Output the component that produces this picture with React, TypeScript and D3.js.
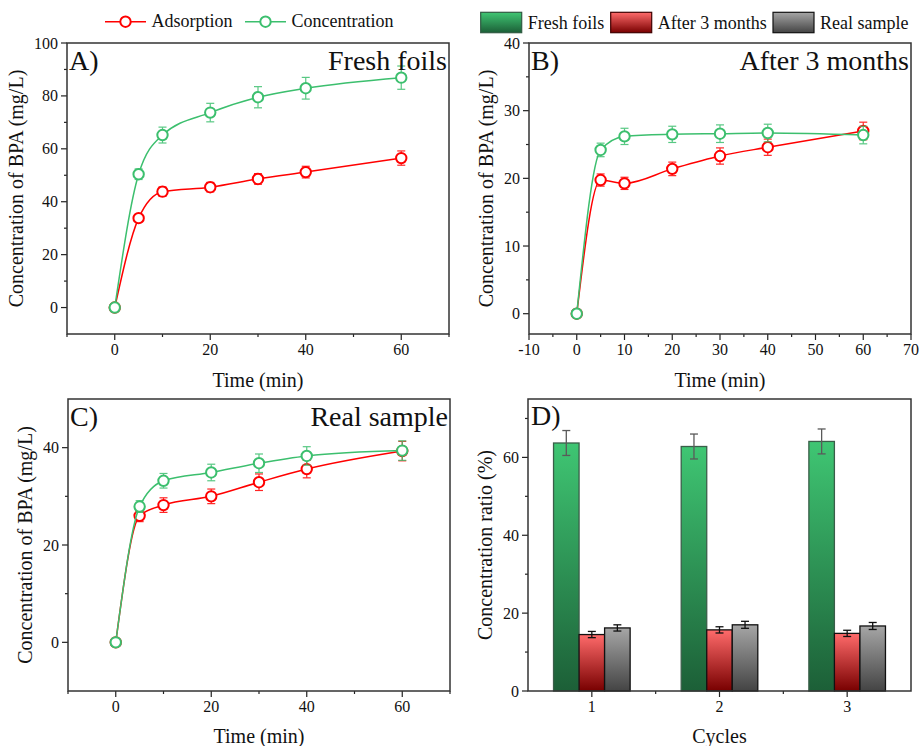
import React from "react";
import * as d3 from "d3";

const FONT = "Liberation Serif";

// ---- data ----
const times = [0, 5, 10, 20, 30, 40, 60];

const adsA = [0, 33.8, 43.8, 45.5, 48.6, 51.2, 56.5];
const adsAErr = [0, 1.2, 1.8, 1.8, 2.0, 2.2, 2.7];
const concA = [0, 50.4, 65.2, 73.7, 79.5, 82.9, 86.9];
const concAErr = [0, 2.0, 3.0, 3.5, 4.0, 4.1, 4.4];

const adsB = [0, 19.75, 19.26, 21.4, 23.3, 24.6, 27.0];
const adsBErr = [0, 0.9, 0.9, 1.0, 1.2, 1.2, 1.3];
const concB = [0, 24.2, 26.2, 26.5, 26.6, 26.7, 26.4];
const concBErr = [0, 1.0, 1.2, 1.2, 1.3, 1.3, 1.3];

const adsC = [0, 26.0, 28.2, 30.0, 32.9, 35.6, 39.3];
const adsCErr = [0, 1.2, 1.5, 1.5, 1.7, 1.8, 2.0];
const concC = [0, 27.9, 33.2, 34.9, 36.8, 38.3, 39.4];
const concCErr = [0, 1.2, 1.5, 1.7, 1.9, 1.9, 2.0];

const cycles = [1, 2, 3];
const fresh = [63.7, 62.8, 64.1];
const freshErr = [3.2, 3.2, 3.2];
const after3 = [14.5, 15.7, 14.8];
const after3Err = [0.8, 0.8, 0.8];
const real = [16.2, 17.0, 16.7];
const realErr = [0.8, 0.9, 0.9];

const lineLegend = ["Adsorption", "Concentration"];
const barLegend = ["Fresh foils", "After 3 months", "Real sample"];

const RED = "#ff0000";
const GREEN = "#3cbf6e";

const T = (props) => {
	const { size, children, ...rest } = props;
	return <text fill="#111" style={{ fontFamily: FONT, fontSize: size + "px" }} {...rest}>{children}</text>;
};

const Axes = ({ box, x, y, xMaj, xMin, yMaj, yMin }) => (
	<g stroke="#222" strokeWidth={1.2}>
		{xMin.map(v => <line key={"xm" + v} x1={x(v)} x2={x(v)} y1={box.b} y2={box.b + 3} />)}
		{xMaj.map(v => <line key={"xM" + v} x1={x(v)} x2={x(v)} y1={box.b} y2={box.b + 6} />)}
		{yMin.map(v => <line key={"ym" + v} x1={box.l - 3} x2={box.l} y1={y(v)} y2={y(v)} />)}
		{yMaj.map(v => <line key={"yM" + v} x1={box.l - 6} x2={box.l} y1={y(v)} y2={y(v)} />)}
		<g stroke="none">
			{xMaj.map(v => <T key={"xt" + v} size={16} x={x(v)} y={box.b + 21} textAnchor="middle">{String(v)}</T>)}
			{yMaj.map(v => <T key={"yt" + v} size={16} x={box.l - 9} y={y(v) + 5.5} textAnchor="end">{String(v)}</T>)}
		</g>
		<rect x={box.l} y={box.t} width={box.r - box.l} height={box.b - box.t} fill="none" stroke="#333" strokeWidth={1.5} />
	</g>
);

const ErrBar = ({ cx, y1, y2, w }) => (
	<g>
		<line x1={cx} x2={cx} y1={y1} y2={y2} />
		<line x1={cx - w} x2={cx + w} y1={y1} y2={y1} />
		<line x1={cx - w} x2={cx + w} y1={y2} y2={y2} />
	</g>
);

const KineticPanel = ({ cfg }) => {
	const box = cfg.box;
	const x = d3.scaleLinear().domain([-10, 70]).range([box.l, box.r]);
	const y = d3.scaleLinear().domain(cfg.yDomain).range([box.b, box.t]);
	const line = d3.line().x(d => x(d[0])).y(d => y(d[1])).curve(d3.curveMonotoneX);
	return (
		<g>
			<Axes box={box} x={x} y={y} xMaj={cfg.xMaj} xMin={cfg.xMin} yMaj={cfg.yMaj} yMin={cfg.yMin} />
			{cfg.series.map((s, si) => {
				const pts = times.map((t, i) => [t, s.v[i], s.e[i]]);
				return (
					<g key={si}>
						<path d={line(pts)} fill="none" stroke={s.color} strokeWidth={1.5} />
						<g stroke={s.color} strokeWidth={1.2} opacity={0.85}>
							{pts.filter(d => d[2] > 0).map((d, i) => (
								<ErrBar key={i} cx={x(d[0])} y1={y(d[1] - d[2])} y2={y(d[1] + d[2])} w={4} />
							))}
						</g>
						{pts.map((d, i) => (
							<circle key={i} cx={x(d[0])} cy={y(d[1])} r={5.2} fill="white" stroke={s.color} strokeWidth={2} />
						))}
					</g>
				);
			})}
			<T size={28} x={box.l + 2} y={box.t + 27}>{cfg.tag}</T>
			<T size={28} x={box.r - 2} y={box.t + 27} textAnchor="end">{cfg.title}</T>
			<T size={20} x={(box.l + box.r) / 2} y={cfg.xTitleY} textAnchor="middle">Time (min)</T>
			<T size={20} x={0} y={0} textAnchor="middle"
				transform={`translate(${cfg.yTitleX}, ${(box.t + box.b) / 2}) rotate(-90)`}>Concentration of BPA (mg/L)</T>
		</g>
	);
};

const BarPanel = () => {
	const box = { l: 528, r: 911, t: 399, b: 691 };
	const x = d3.scaleLinear().domain([0.5, 3.5]).range([box.l, box.r]);
	const y = d3.scaleLinear().domain([0, 75]).range([box.b, box.t]);
	const bw = 0.2;
	const groups = [
		{ v: fresh, e: freshErr, fill: "gGreen", stroke: "#3a5e49", err: "#5a5a5a", off: -0.3 },
		{ v: after3, e: after3Err, fill: "gRed", stroke: "#111", err: "#111", off: -0.1 },
		{ v: real, e: realErr, fill: "gGray", stroke: "#111", err: "#111", off: 0.1 },
	];
	return (
		<g>
			{groups.map((s, si) => (
				<g key={si}>
					{cycles.map((c, i) => (
						<rect key={i} x={x(c + s.off)} y={y(s.v[i])} width={x(bw) - x(0)} height={y(0) - y(s.v[i])}
							fill={`url(#${s.fill})`} stroke={s.stroke} strokeWidth={1.3} />
					))}
					<g stroke={s.err} strokeWidth={1.3}>
						{cycles.map((c, i) => (
							<ErrBar key={i} cx={x(c + s.off + bw / 2)} y1={y(s.v[i] - s.e[i])} y2={y(s.v[i] + s.e[i])} w={4} />
						))}
					</g>
				</g>
			))}
			<Axes box={box} x={x} y={y} xMaj={cycles} xMin={[1.5, 2.5]} yMaj={[0, 20, 40, 60]} yMin={[10, 30, 50, 70]} />
			<T size={28} x={box.l + 3} y={box.t + 26}>D)</T>
			<T size={20} x={(box.l + box.r) / 2} y={743} textAnchor="middle">Cycles</T>
			<T size={20} x={0} y={0} textAnchor="middle"
				transform={`translate(492, ${(box.t + box.b) / 2}) rotate(-90)`}>Concentration ratio (%)</T>
		</g>
	);
};

const grads = [
	["gGreen", "#3fc673", "#1c5f37"],
	["gRed", "#ff6b6b", "#780000"],
	["gGray", "#a6a6a6", "#444444"],
];

const App = () => (
	<div style={{ position: "absolute", left: 0, top: 0 }}>
		<svg width={919} height={746} style={{ display: "block", background: "white" }}>
			<defs>
				{grads.map(([id, c1, c2]) => (
					<linearGradient key={id} id={id} x1={0} y1={0} x2={0} y2={1}>
						<stop offset="0%" stopColor={c1} />
						<stop offset="100%" stopColor={c2} />
					</linearGradient>
				))}
			</defs>

			{/* line legend */}
			{[[105, RED, lineLegend[0]], [245, GREEN, lineLegend[1]]].map(([x0, c, t]) => (
				<g key={t}>
					<line x1={x0} x2={x0 + 41} y1={21.7} y2={21.7} stroke={c} strokeWidth={1.5} />
					<circle cx={x0 + 20.5} cy={21.7} r={5.2} fill="white" stroke={c} strokeWidth={2} />
					<T size={18} x={x0 + 46.5} y={27}>{t}</T>
				</g>
			))}

			{/* bar legend */}
			{[[480.7, "gGreen", "#2f5a42", barLegend[0]], [610.7, "gRed", "#400000", barLegend[1]], [773, "gGray", "#111", barLegend[2]]].map(([x0, id, st, t]) => (
				<g key={t}>
					<rect x={x0} y={12.3} width={41} height={20.4} fill={`url(#${id})`} stroke={st} strokeWidth={1.2} />
					<T size={18} x={x0 + 47} y={28.5}>{t}</T>
				</g>
			))}

			<KineticPanel cfg={{
				box: { l: 67, r: 449, t: 43, b: 334 },
				yDomain: [-10, 100],
				xMaj: [0, 20, 40, 60], xMin: [-10, 10, 30, 50, 70],
				yMaj: [0, 20, 40, 60, 80, 100], yMin: [10, 30, 50, 70, 90],
				series: [{ v: adsA, e: adsAErr, color: RED }, { v: concA, e: concAErr, color: GREEN }],
				tag: "A)", title: "Fresh foils", xTitleY: 386.5, yTitleX: 23,
			}} />
			<KineticPanel cfg={{
				box: { l: 529, r: 911, t: 43, b: 334 },
				yDomain: [-3, 40],
				xMaj: [-10, 0, 10, 20, 30, 40, 50, 60, 70], xMin: [-5, 5, 15, 25, 35, 45, 55, 65],
				yMaj: [0, 10, 20, 30, 40], yMin: [5, 15, 25, 35],
				series: [{ v: adsB, e: adsBErr, color: RED }, { v: concB, e: concBErr, color: GREEN }],
				tag: "B)", title: "After 3 months", xTitleY: 386.5, yTitleX: 493,
			}} />
			<KineticPanel cfg={{
				box: { l: 68, r: 450, t: 399, b: 691 },
				yDomain: [-10, 50],
				xMaj: [0, 20, 40, 60], xMin: [-10, 10, 30, 50, 70],
				yMaj: [0, 20, 40], yMin: [10, 30],
				series: [{ v: adsC, e: adsCErr, color: RED }, { v: concC, e: concCErr, color: GREEN }],
				tag: "C)", title: "Real sample", xTitleY: 742.5, yTitleX: 32,
			}} />
			<BarPanel />
		</svg>
	</div>
);

export default App;
